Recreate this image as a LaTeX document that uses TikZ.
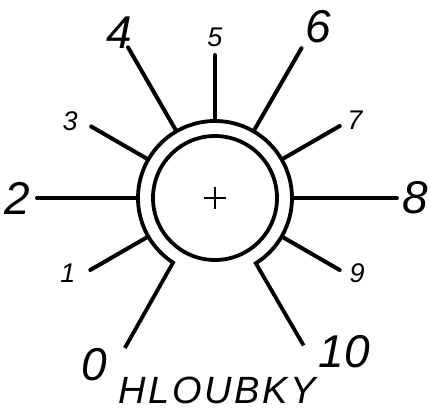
\documentclass[tikz,border=0pt]{standalone}
\usepackage{fontspec}
\setmainfont{Liberation Sans}
\usetikzlibrary{positioning}

\begin{document}
\begin{tikzpicture}[x=0.5pt,y=0.5pt]
\tikzset{
  rim/.style={line width=1.9pt},
  ray/.style={line width=2pt,line cap=round},
  big/.style={font=\fontsize{23}{23}\selectfont\itshape,inner sep=0pt},
  sml/.style={font=\fontsize{13.5}{13.5}\selectfont\itshape,inner sep=0pt}
}
\useasboundingbox (-215,-213) rectangle (216,198);
% knob
\draw[rim] (0,0) circle (62);
\draw[line width=0.8pt] (-11,0) -- (11,0) (0,-11) -- (0,11);
% outer ring, open at the bottom, ends running into 0 and 10
\draw[rim,line join=miter] (239:175) -- (237:77) arc[start angle=237,end angle=-58,radius=77] -- (-59:172);
% scale marks
\foreach \a/\r in {210/144,180/178,150/143,120/174,90/143,60/173,30/144,0/182,-30/144}
  \draw[ray] (\a:79) -- (\a:\r);
% numbers
\node[big] (n0) at (234:206) {0};
\node[sml] (n1) at (207:165) {1};
\node[big] (n2) at (180:198) {2};
\node[sml] (n3) at (152:164) {3};
\node[big] (n4) at (120:191) {4};
\node[sml] (n5) at (90:161) {5};
\node[big] (n6) at (59:200) {6};
\node[sml] (n7) at (29:160) {7};
\node[big] (n8) at (0:200) {8};
\node[sml] (n9) at (-28:161) {9};
\node[big] (n10) at (-50:201) {10};
\node[font=\fontsize{19}{19}\selectfont\itshape\addfontfeature{LetterSpace=7},inner sep=0pt] (title) at (2,-192) {HLOUBKY};
\end{tikzpicture}
\end{document}
